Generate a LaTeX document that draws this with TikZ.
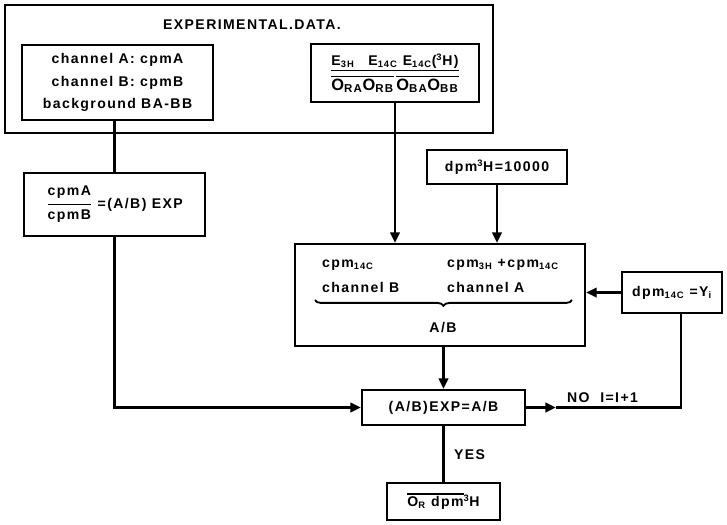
\documentclass[tikz,border=0pt]{standalone}
\usepackage{amsmath}
\usepackage{fontspec}
\setmainfont{Liberation Sans}[LetterSpace=10]
\usetikzlibrary{arrows.meta, positioning, calc, decorations.pathreplacing}
% bar over a group of text
\newcommand{\barred}[1]{\leavevmode\vbox{\hrule height 1.4pt\kern1.2pt\hbox{#1}}}
\tikzset{
  flowtext/.style={font=\fontsize{12}{14}\selectfont\bfseries},
  flowbox/.style={draw, line width=2pt, inner sep=2pt, align=center},
  flowline/.style={line width=2.4pt},
  flowarrow/.style={line width=2.4pt, -{Triangle[length=9pt,width=8pt]}}
}
\begin{document}
\begin{tikzpicture}[x=0.03cm, y=-0.03cm, every node/.style={flowtext}]
  \useasboundingbox (0,0) rectangle (727,524);

  % experimental data
  \node[flowbox, line width=1.4pt, minimum width=14.64cm, minimum height=3.84cm] (expdata) at (249,69) {};
  \node (exptitle) at (252,25) {EXPERIMENTAL.DATA.};
  \node[flowbox, minimum width=5.73cm, minimum height=2.25cm] (chanbox) at (117.5,82.5)
       {channel A: cpmA\\[5pt] channel B: cpmB\\[5pt] background BA-BB};
  \node[flowbox, minimum width=5.04cm, minimum height=1.74cm] (effbox) at (395,73)
       {\underline{E\textsubscript{3H}\quad E\textsubscript{14C}\ E\textsubscript{14C}(\textsuperscript{3}H)}\\[3pt]
        {\fontsize{14}{16}\selectfont\barred{O\textsubscript{RA}}\barred{O\textsubscript{RB}}\,\barred{O\textsubscript{BA}}\barred{O\textsubscript{BB}}}};

  % experimental ratio
  \node[flowbox, minimum width=5.43cm, minimum height=1.89cm] (ratiobox) at (114.5,204.5)
       {$\genfrac{}{}{1.4pt}{0}{\hbox{cpmA}}{\hbox{cpmB}}$\ =(A/B) EXP};

  % calculated ratio
  \node[flowbox, minimum width=4.2cm, minimum height=1.02cm] (dpmH) at (497,167) {dpm\textsuperscript{3}H=10000};
  \node[flowbox, minimum width=8.7cm, minimum height=3.06cm] (ratio) at (440,295) {};
  \node[anchor=west] (cpmC) at (318,265) {cpm\textsubscript{14C}};
  \node[anchor=west] (chanB) at (318,287) {channel B};
  \node[anchor=west] (cpmHC) at (443,265) {cpm\textsubscript{3H} +cpm\textsubscript{14C}};
  \node[anchor=west] (chanA) at (443,287) {channel A};
  \node (ratioAB) at (443,328) {A/B};
  \draw[line width=1.6pt, decorate, decoration={brace, mirror, amplitude=5pt}] (315,300) -- (572,300);
  \node[flowbox, minimum width=3cm, minimum height=1.23cm] (dpmC) at (672,292.5) {dpm\textsubscript{14C} =Y\textsubscript{i}};

  % comparison and result
  \node[flowbox, minimum width=4.89cm, minimum height=1.05cm] (compare) at (443.5,407.5) {(A/B)EXP=A/B};
  \node[flowbox, minimum width=3.39cm, minimum height=1.11cm] (result) at (443.5,501.5)
       {\barred{O\textsubscript{R} dpm}\textsuperscript{3}H};
  \node[anchor=west] (yeslabel) at (450,455) {YES};
  \node[anchor=west] (nolabel) at (563,398) {NO\ \ I=I+1};

  % connectors
  \draw[flowline] (chanbox.south -| ratiobox.north) -- (ratiobox.north);
  \draw[flowarrow] (ratiobox.south) |- (compare.west);
  \draw[flowarrow] (effbox.south) -- (effbox.south |- ratio.north);
  \draw[flowarrow] (dpmH.south) -- (dpmH.south |- ratio.north);
  \draw[flowarrow] (dpmC.west) -- (dpmC.west -| ratio.east);
  \draw[flowarrow] (compare.north |- ratio.south) -- (compare.north);
  \draw[flowline] (compare.south) -- (result.north);
  \coordinate (nohead) at (556,407.5);
  \coordinate (noturn) at (681,407.5);
  \draw[flowarrow] (compare.east) -- (nohead);
  \draw[flowline] (nohead) -- (noturn) -- (noturn |- dpmC.south);
\end{tikzpicture}
\end{document}
